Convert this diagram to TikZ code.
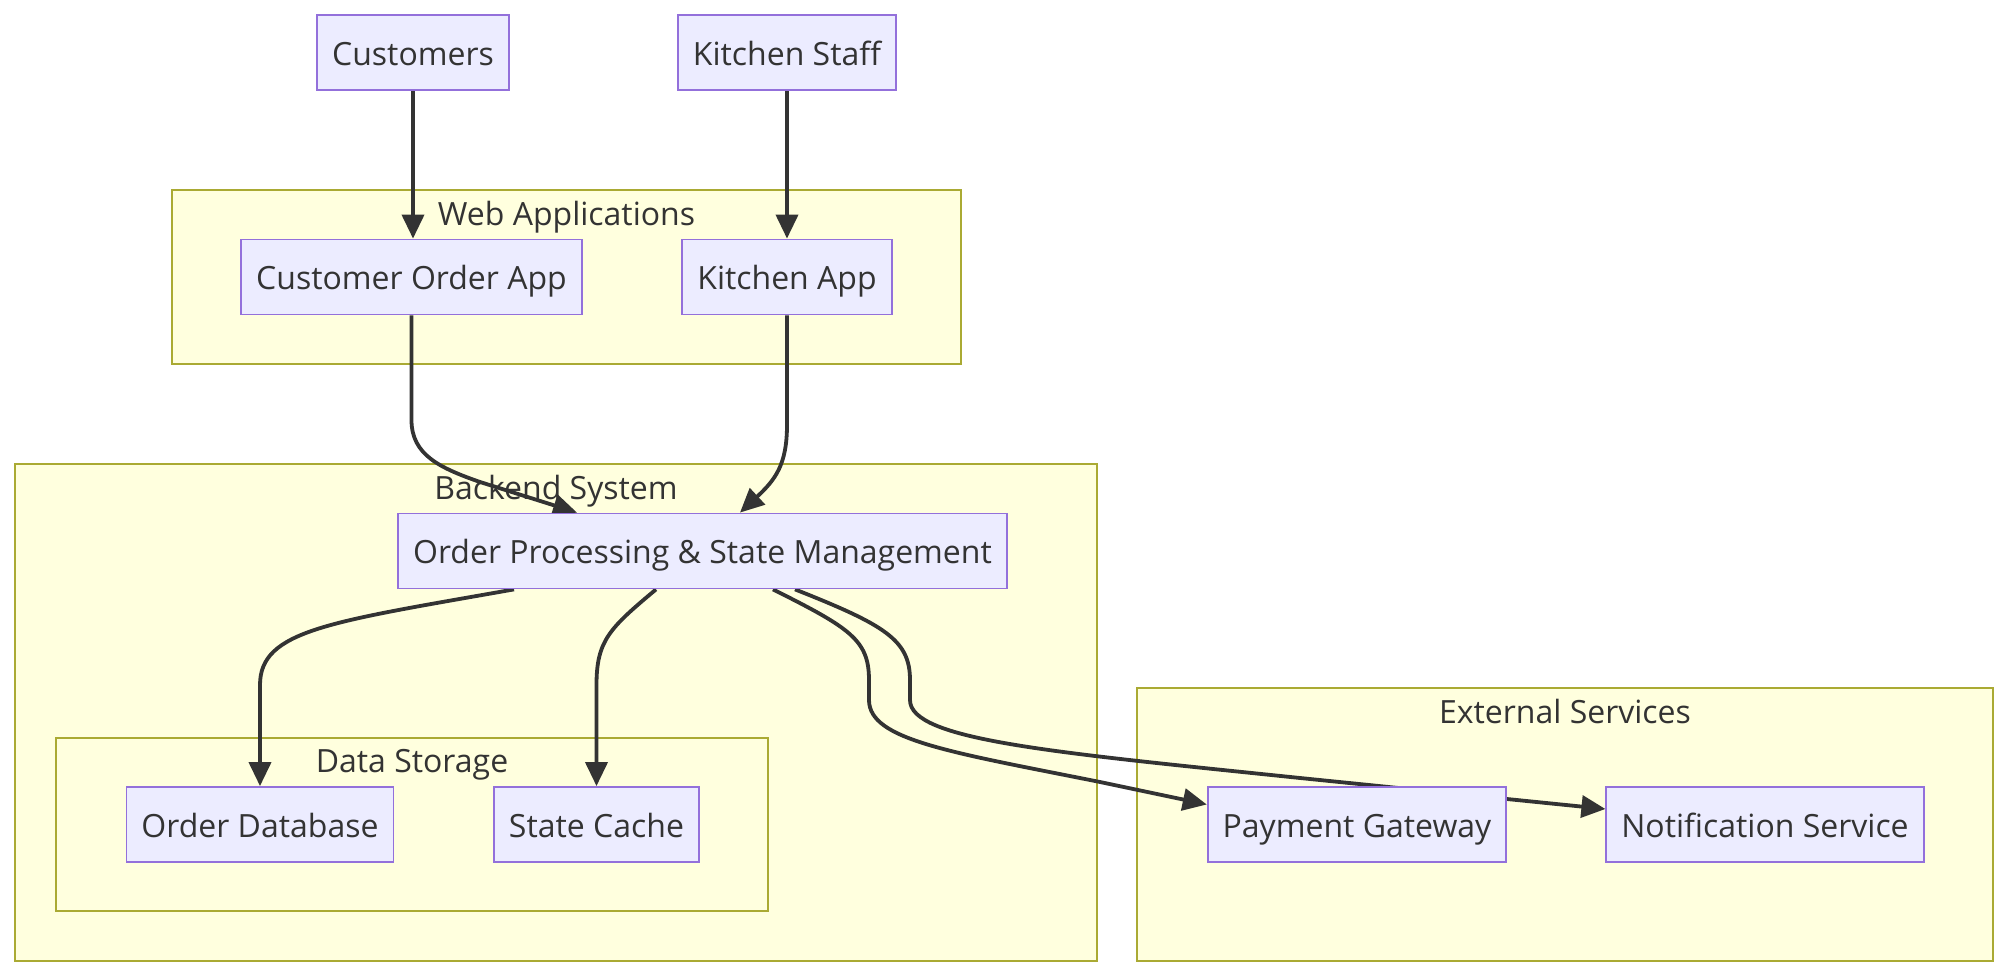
\documentclass[tikz,border=0pt]{standalone}
\usepackage{fontspec}
\setmainfont{Open Sans}
\usetikzlibrary{arrows.meta}
\definecolor{boxfill}{HTML}{ECECFF}
\definecolor{boxline}{HTML}{9370DB}
\definecolor{grpfill}{HTML}{FFFFDE}
\definecolor{grpline}{HTML}{AAAA33}
\definecolor{ink}{HTML}{333333}
\pgfdeclarelayer{bg}
\pgfdeclarelayer{fg}
\pgfsetlayers{bg,main,fg}

\begin{document}
\begin{tikzpicture}[x=0.5pt,y=-0.5pt,
  box/.style={draw=boxline,fill=boxfill,line width=0.9pt,text=ink,minimum height=37.5pt,inner xsep=7.5pt,text height=15pt,text depth=2.4pt,font=\fontsize{16pt}{19pt}\selectfont},
  grp/.style={draw=grpline,fill=grpfill,line width=1pt},
  grplabel/.style={text=ink,text height=15pt,text depth=2.4pt,font=\fontsize{16pt}{19pt}\selectfont},
  link/.style={-{Triangle[length=12pt,width=11pt]},draw=ink,line width=1.9pt}]

\useasboundingbox (0,0) rectangle (2010,978);

% groups
\begin{pgfonlayer}{bg}
\draw[grp] (172,190) rectangle (961,364);
\draw[grp] (15,464) rectangle (1097,961);
\draw[grp] (56,738) rectangle (768,911);
\draw[grp] (1137,688) rectangle (1993,961);
\end{pgfonlayer}
\node[grplabel] (webl) at (566.5,213) {Web Applications};
\node[grplabel] (backl) at (556,487) {Backend System};
\node[grplabel] (datal) at (412,760) {Data Storage};
\node[grplabel] (extl) at (1565,711) {External Services};

% nodes
\begin{pgfonlayer}{fg}
\node[box] (cust) at (413,52.5) {Customers};
\node[box] (kstaff) at (787,52.5) {Kitchen Staff};
\node[box] (coa) at (411.5,277) {Customer Order App};
\node[box] (kapp) at (787,277) {Kitchen App};
\node[box] (ops) at (702.5,551) {Order Processing \& State Management};
\node[box] (odb) at (260,824.5) {Order Database};
\node[box] (cache) at (596.5,824.5) {State Cache};
\node[box] (pay) at (1357,824.5) {Payment Gateway};
\node[box] (notif) at (1765,824.5) {Notification Service};
\end{pgfonlayer}

% links
\draw[link] (cust.south) -- (cust.south |- coa.north);
\draw[link] (kstaff.south) -- (kstaff.south |- kapp.north);
\draw[link] (coa.south) -- (411.5,420) .. controls (411.5,455) and (440,468) .. (480,482) -- ([xshift=-62.75pt]ops.north);
\draw[link] (kapp.south) -- (787,425) .. controls (787,465) and (775,480) .. ([xshift=18.75pt]ops.north);
\draw[link] ([xshift=-94.25pt]ops.south) .. controls (330,622) and (260,630) .. (260,685) -- (odb.north);
\draw[link] ([xshift=-23.25pt]ops.south) .. controls (610,628) and (596.5,640) .. (596.5,685) -- (cache.north);
\draw[link] ([xshift=35.25pt]ops.south) .. controls (850,628) and (869,640) .. (869,680) -- (869,700)
  .. controls (869,740) and (950,752) .. (1100,782) -- ([yshift=10pt]pay.west);
\draw[link] ([xshift=46.25pt]ops.south) .. controls (885,625) and (910,640) .. (910,680) -- (910,700)
  .. controls (910,740) and (1050,752) .. (1300,778) -- ([yshift=7.75pt]notif.west);

\end{tikzpicture}
\end{document}
